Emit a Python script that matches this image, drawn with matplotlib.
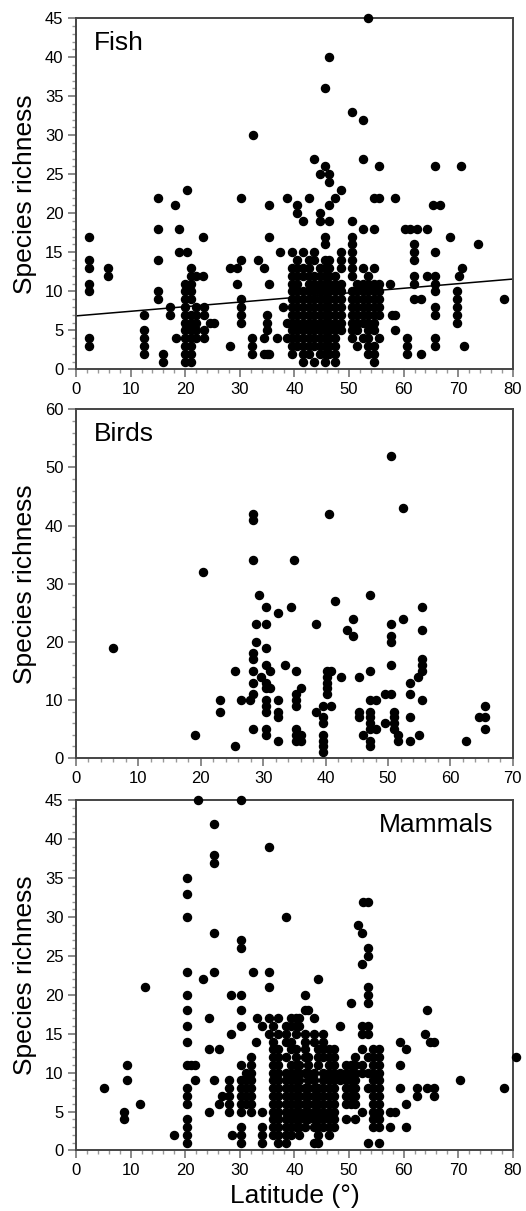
import matplotlib
matplotlib.use("Agg")
import matplotlib.pyplot as plt
from matplotlib.ticker import MultipleLocator

plt.rcParams['font.family'] = ['Liberation Sans', 'DejaVu Sans']

# columns of points: (latitude, [species richness values])
fish_cols = [
    (2.4, [17, 14, 13, 11, 10, 4, 3]),
    (5.9, [13, 12]),
    (12.5, [7, 5, 4, 3, 2]),
    (15.1, [22, 18, 14, 10, 9]),
    (15.9, [2, 1]),
    (17.2, [8, 7]),
    (18.1, [21]),
    (18.4, [4]),
    (18.9, [18, 15]),
    (20.0, [11, 10, 9, 8, 7, 6, 5, 4, 3, 2, 1]),
    (20.4, [23, 15]),
    (21.0, [13, 12, 11, 10, 9, 7, 6, 5, 4, 3, 2, 1]),
    (22.0, [12, 8, 7, 6, 5, 4]),
    (23.2, [17, 12]),
    (23.4, [8, 7, 5, 4]),
    (24.6, [6]),
    (25.2, [6]),
    (28.2, [13, 3]),
    (29.4, [13, 11]),
    (30.3, [22, 14, 9, 8, 7, 6]),
    (32.2, [4, 3, 2]),
    (32.5, [30]),
    (33.4, [14]),
    (34.4, [13, 4, 2]),
    (34.9, [7, 6, 5, 2]),
    (35.4, [21, 17, 11, 2]),
    (36.8, [4]),
    (37.4, [15]),
    (37.9, [8]),
    (38.6, [22, 6, 4]),
    (39.5, [15, 13, 12, 11, 10, 9, 8, 7, 6, 5, 4, 3, 2]),
    (40.4, [21, 20, 14, 13, 12, 11, 10, 9, 8, 7, 6, 5, 4, 3]),
    (41.5, [19, 15, 13, 12, 10, 9, 8, 7, 6, 5, 4, 3, 2, 1]),
    (42.7, [22, 14, 13, 12, 11, 10, 9, 8, 7, 6, 5, 4, 3, 2]),
    (43.5, [27, 15, 14, 12, 11, 10, 9, 8, 7, 6, 5, 4, 3, 1]),
    (44.6, [25, 20, 19, 13, 12, 11, 10, 9, 8, 7, 6, 5, 4, 3, 2]),
    (45.6, [36, 26, 17, 16, 14, 13, 12, 11, 10, 9, 8, 7, 6, 5, 4, 3, 2, 1]),
    (46.3, [40, 25, 24, 21, 19, 14, 13, 12, 11, 10, 9, 8, 7, 6, 5, 4, 3, 2]),
    (47.4, [22, 12, 11, 10, 9, 8, 7, 6, 5, 4, 3, 2, 1]),
    (48.5, [23, 15, 14, 13, 11, 10, 9, 8, 7, 6, 5]),
    (50.5, [33, 19, 17, 16, 15, 14, 13, 12, 10, 9, 8, 7, 6, 5, 4]),
    (51.5, [11, 10, 9, 8, 7, 6, 5, 3]),
    (52.5, [32, 27, 18, 13, 11, 10, 9, 8, 7, 6, 4]),
    (53.5, [45, 12, 11, 10, 9, 8, 7, 6, 5, 4, 3, 2]),
    (54.5, [22, 18, 13, 11, 10, 9, 8, 7, 6, 5, 3, 2, 1]),
    (55.4, [26, 22, 11, 10, 9, 8, 7, 4]),
    (57.5, [11]),
    (57.8, [7]),
    (58.4, [22, 7, 5]),
    (60.3, [18]),
    (60.6, [4, 3, 2]),
    (61.2, [18]),
    (61.9, [16, 15, 14, 12, 11, 9]),
    (62.4, [18]),
    (63.1, [9, 2]),
    (64.2, [18, 12]),
    (65.4, [21]),
    (65.7, [26, 15, 12, 11, 10, 8, 7, 4, 3]),
    (66.7, [21]),
    (68.5, [17]),
    (69.7, [10, 9, 8, 7, 6]),
    (70.2, [12]),
    (70.5, [26]),
    (70.7, [13]),
    (71.0, [3]),
    (73.7, [16]),
    (78.3, [9]),
]

bird_cols = [
    (6.0, [19]),
    (19.0, [4]),
    (20.4, [32]),
    (23.1, [10, 8]),
    (25.4, [15, 2]),
    (26.4, [10]),
    (27.9, [10]),
    (28.4, [42, 41, 34, 18, 17, 15, 13, 11, 5]),
    (28.8, [23, 20]),
    (29.4, [28]),
    (29.7, [14]),
    (30.4, [26, 23, 19, 16, 13, 12, 10, 9, 8, 5, 4]),
    (31.1, [15, 12]),
    (32.4, [25, 10, 8, 7, 3]),
    (33.5, [16]),
    (34.4, [26]),
    (35.0, [34]),
    (35.3, [15, 11, 10, 9, 5, 4, 3]),
    (36.0, [12, 4, 3]),
    (38.4, [23, 8]),
    (39.5, [9, 7, 6, 4, 3, 2, 1]),
    (40.2, [15, 14, 13, 12, 11]),
    (40.5, [42]),
    (40.9, [15, 9]),
    (41.5, [27]),
    (42.5, [14]),
    (43.4, [22]),
    (44.4, [24, 21]),
    (45.4, [14, 8, 7]),
    (46.0, [4]),
    (47.1, [28, 15, 10, 8, 7, 6, 5, 3, 2]),
    (48.0, [10, 5]),
    (49.5, [11, 6]),
    (50.5, [52, 23, 21, 20, 16, 11]),
    (51.0, [8, 7, 6, 5]),
    (51.6, [4, 3]),
    (52.4, [43, 24]),
    (53.5, [13, 11, 7, 3]),
    (54.8, [14]),
    (55.0, [4]),
    (55.5, [26, 22, 17, 16, 15, 10]),
    (62.5, [3]),
    (64.5, [7]),
    (65.5, [9, 7, 5]),
]

mammal_cols = [
    (5.1, [8]),
    (8.8, [5, 4]),
    (9.3, [11, 9]),
    (11.7, [6]),
    (12.6, [21]),
    (18.0, [2]),
    (20.3, [35, 33, 30, 23, 20, 18, 16, 14, 11, 8, 7, 6, 4, 3, 2, 1]),
    (21.1, [11]),
    (21.8, [11, 9]),
    (22.3, [45]),
    (23.3, [22]),
    (24.4, [17, 13, 5]),
    (25.3, [42, 38, 37, 28, 23, 9]),
    (26.2, [13, 6]),
    (26.8, [7]),
    (28.0, [9, 8, 7, 6, 5]),
    (28.3, [20, 15]),
    (28.6, [2]),
    (30.3, [45, 27, 26, 20, 18, 16, 11, 9, 8, 7, 6, 5, 3, 2, 1]),
    (31.2, [10, 9, 8, 7, 6]),
    (32.0, [12, 11, 10, 9, 8, 7, 6, 5]),
    (32.5, [23]),
    (32.9, [14]),
    (33.2, [17]),
    (34.0, [16, 5, 3, 2, 1]),
    (35.3, [39, 23, 21, 17, 15]),
    (36.0, [16, 14, 13, 12, 11, 10, 9, 8, 7, 6, 5, 4, 3, 2]),
    (37.0, [17, 15, 13, 12, 11, 10, 9, 8, 7, 6, 5, 4, 3, 2, 1]),
    (38.4, [30, 16, 15, 14, 12, 10, 9, 8, 7, 6, 5, 4, 3, 2, 1]),
    (39.3, [17, 16, 14, 13, 11, 10, 9, 8, 7, 6, 5, 4, 3, 2]),
    (40.2, [17, 16, 15, 13, 12, 11, 10, 9, 8, 7, 6, 5, 4, 3]),
    (40.9, [17, 16, 11, 10, 9, 8, 7, 6, 5, 4, 3, 2]),
    (41.9, [20, 18, 15, 14, 13, 12, 10, 8, 7, 6, 5, 4, 3]),
    (42.5, [18, 12, 11, 10, 9, 8, 7, 6, 5, 4]),
    (43.6, [17, 15, 14, 10, 9, 8, 7, 6, 5, 4, 3, 1]),
    (44.4, [22, 13, 12, 11, 8, 7, 6, 5, 4, 3, 2, 1]),
    (45.3, [15, 14, 13, 12, 10, 9, 8, 7, 6, 5, 4, 3]),
    (46.3, [13, 12, 11, 10, 9, 8, 7, 6, 5, 4, 3, 2]),
    (47.3, [13, 12, 11, 10, 9, 8, 7, 6, 5, 4, 3]),
    (48.3, [16, 10, 9]),
    (49.4, [11, 10, 9, 8, 7, 6, 4]),
    (50.3, [19, 11, 10, 9, 8, 7, 6]),
    (51.1, [12, 11, 10, 9, 8, 7, 6, 4]),
    (51.6, [29]),
    (52.3, [28, 24, 16, 15, 13, 11, 10, 5]),
    (52.6, [32]),
    (53.4, [32, 26, 25, 21, 20, 19, 16, 15, 12, 10, 8, 1]),
    (54.3, [13, 12, 11, 10, 9, 8, 7, 6, 5, 4, 3]),
    (55.4, [13, 12, 11, 10, 9, 8, 7, 6, 5, 4, 3, 1]),
    (57.5, [5, 3]),
    (58.4, [5]),
    (59.3, [14, 11, 8]),
    (60.4, [13, 6, 3]),
    (62.4, [8, 7]),
    (64.0, [15]),
    (64.3, [18, 8]),
    (64.8, [14]),
    (65.6, [14, 8, 7]),
    (70.4, [9]),
    (78.4, [8]),
    (80.5, [12]),
]

# linear fit drawn on the fish panel
fish_fit_intercept = 6.85
fish_fit_slope = 0.059

panels = [
    ("Fish", fish_cols, 80, 45, 5, 1, "left"),
    ("Birds", bird_cols, 70, 60, 10, 2, "left"),
    ("Mammals", mammal_cols, 80, 45, 5, 1, "right"),
]
rects = [
    [0.1445, 0.695, 0.8305, 0.290],
    [0.1445, 0.374, 0.8305, 0.288],
    [0.1445, 0.050, 0.8305, 0.289],
]

fig = plt.figure(figsize=(5.26, 12.11), dpi=100)

for (name, cols, xmax, ymax, ymaj, ymin, side), r in zip(panels, rects):
    ax = fig.add_axes(r)
    xs, ys = [], []
    for lat, vals in cols:
        for v in vals:
            xs.append(lat)
            ys.append(v)
    ax.plot(xs, ys, 'o', color='black', ms=5.8, mec='black', clip_on=False, zorder=3)
    if name == "Fish":
        ax.plot([0, xmax], [fish_fit_intercept, fish_fit_intercept + fish_fit_slope * xmax],
                color='black', lw=1.1, zorder=2)
    ax.set_xlim(0, xmax)
    ax.set_ylim(0, ymax)
    ax.xaxis.set_major_locator(MultipleLocator(10))
    ax.xaxis.set_minor_locator(MultipleLocator(2))
    ax.yaxis.set_major_locator(MultipleLocator(ymaj))
    ax.yaxis.set_minor_locator(MultipleLocator(ymin))
    ax.tick_params(which='major', length=6, width=1.2, color='#777777', labelsize=12, pad=3)
    ax.tick_params(which='minor', length=3, width=1.0, color='#999999')
    for s in ax.spines.values():
        s.set_color('#444444')
        s.set_linewidth(1.4)
    ax.set_ylabel("Species richness", fontsize=19, labelpad=6)
    if side == "left":
        ax.text(0.04, 0.93, name, transform=ax.transAxes, fontsize=19, ha='left', va='center')
    else:
        ax.text(0.955, 0.93, name, transform=ax.transAxes, fontsize=19, ha='right', va='center')

ax.set_xlabel("Latitude (°)", fontsize=19, labelpad=4)

fig.savefig("out.png", dpi=100)
